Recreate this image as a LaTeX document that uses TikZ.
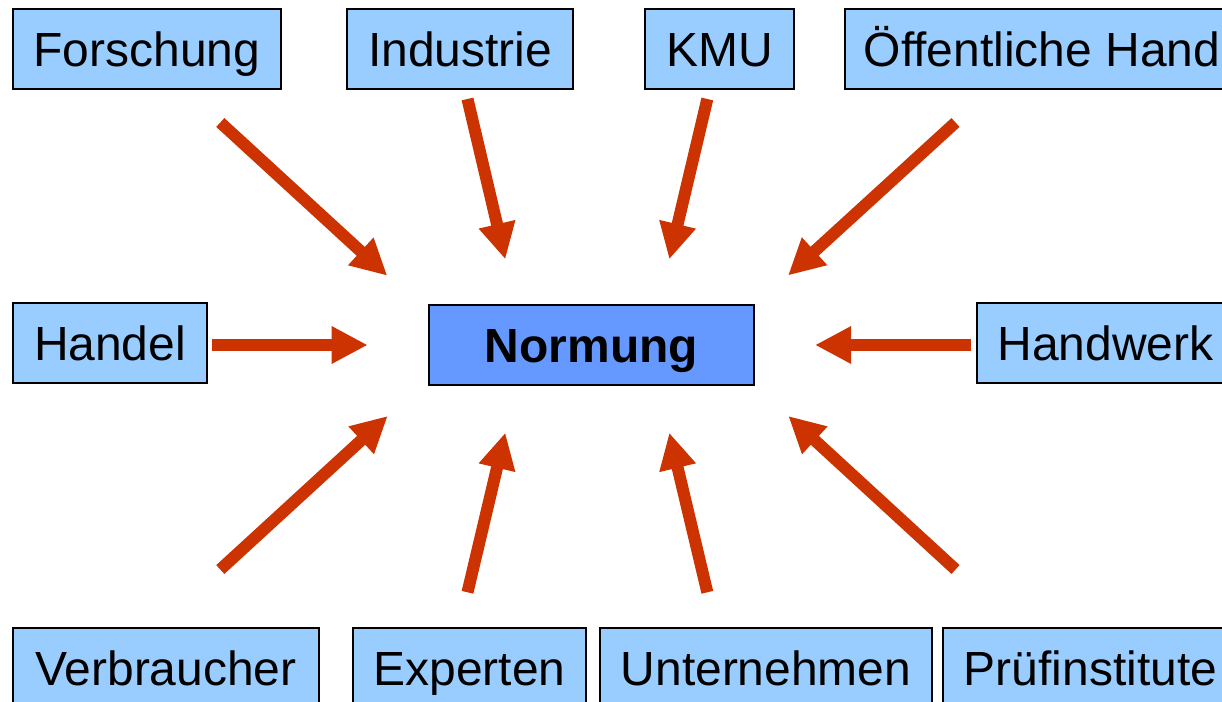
\documentclass[tikz,border=0pt]{standalone}
\usepackage{fontspec}
\setmainfont{Liberation Sans}
\usetikzlibrary{arrows.meta}
\definecolor{hellblau}{HTML}{99CCFF}
\definecolor{mittelblau}{HTML}{6699FF}
\definecolor{pfeilrot}{HTML}{CC3300}

\begin{document}
\begin{tikzpicture}[x=0.02cm,y=-0.02cm,>={Triangle[length=0.72cm,width=0.7cm]},
	box/.style={draw,line width=0.8pt,fill=hellblau,minimum height=1.6cm,inner sep=0pt,
		font=\fontsize{27.3}{32}\selectfont,text height=26pt,text depth=5.6pt},
	mitte/.style={box,fill=mittelblau,font=\fontsize{27.3}{32}\selectfont\bfseries},
	pfeil/.style={->,color=pfeilrot,line width=0.24cm}]

\path[use as bounding box,clip] (0,0) rectangle (1222,702);

\node[box,minimum width=5.36cm]   (forschung)    at (147,49)     {Forschung};
 \node[box,minimum width=4.52cm]  (industrie)    at (460,49)     {Industrie};
	\node[box,minimum width=2.98cm]  (kmu)          at (719.5,49)   {KMU};
	\node[box,minimum width=7.88cm]  (hand)         at (1042,49)    {Öffentliche Hand};
	\node[box,minimum width=3.88cm]  (handel)       at (110,343)    {Handel};
	\node[mitte,minimum width=6.5cm] (normung)      at (591.5,345)  {Normung};
	\node[box,minimum width=5.14cm]  (handwerk)     at (1105.5,343) {Handwerk};
	\node[box,minimum width=6.12cm]  (verbraucher)  at (166,668)    {Verbraucher};
	\node[box,minimum width=4.66cm]  (experten)     at (469.5,668)  {Experten};
	\node[box,minimum width=6.64cm]  (unternehmen)  at (766,668)    {Unternehmen};
	\node[box,minimum width=5.9cm]   (pruef)        at (1090.5,668) {Prüfinstitute};

	% freie Pfeilenden
	\coordinate (forschung-a)   at (220.3,122.5);	\coordinate (forschung-b)   at (387.3,275.7);
	\coordinate (industrie-a)   at (467.5,99);	\coordinate (industrie-b)   at (505.3,259.3);
	\coordinate (kmu-a)         at (707.3,99);	\coordinate (kmu-b)         at (669.3,259.3);
	\coordinate (hand-a)        at (955.5,122.5);	\coordinate (hand-b)        at (788,275.5);
	\coordinate (handel-a)      at (212,345);	\coordinate (handel-b)      at (367.7,345);
	\coordinate (handwerk-a)    at (970.7,345);	\coordinate (handwerk-b)    at (815,345);
	\coordinate (verbraucher-a) at (220.3,569.5);	\coordinate (verbraucher-b) at (387.7,416);
	\coordinate (experten-a)    at (467.5,592.3);	\coordinate (experten-b)    at (505.3,432.7);
	\coordinate (unternehmen-a) at (707.3,592.3);	\coordinate (unternehmen-b) at (669.3,432.7);
	\coordinate (pruef-a)       at (955.5,569.5);	\coordinate (pruef-b)       at (788.3,416);

	\path[pfeil] (forschung-a) edge (forschung-b)
					(industrie-a) edge (industrie-b)
					(kmu-a) edge (kmu-b)
					(hand-a) edge (hand-b)
					(handel-a) edge (handel-b)
					(handwerk-a) edge (handwerk-b)
					(verbraucher-a) edge (verbraucher-b)
						(experten-a) edge (experten-b)
						(unternehmen-a) edge (unternehmen-b)
						(pruef-a) edge (pruef-b);

\end{tikzpicture}
\end{document}
